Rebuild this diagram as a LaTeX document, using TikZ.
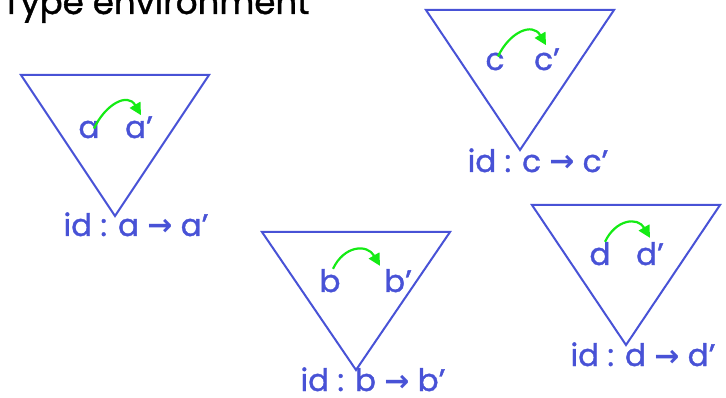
\documentclass[tikz,border=0pt]{standalone}
\usepackage{fontspec}
\setmainfont{Poppins}[FakeBold=1.2]
\newfontfamily\arrowfont{DejaVu Sans}
\usetikzlibrary{arrows.meta}
\definecolor{tblue}{RGB}{72,82,214}
\definecolor{tgreen}{RGB}{20,235,20}
\tikzset{
  tri/.style={draw=tblue, line width=2pt, line join=miter},
  lbl/.style={text=tblue, font=\fontsize{31}{36}\selectfont, inner sep=0pt, anchor=base},
  typ/.style={text=tblue, font=\fontsize{31}{36}\selectfont, inner sep=0pt, anchor=base},
  flow/.style={draw=tgreen, line width=2.2pt, -{Triangle[length=12pt,width=12pt]}, out=65, in=120, looseness=1.4},
}
\newcommand{\ar}{{\arrowfont\bfseries\fontsize{30}{30}\selectfont →}}
\begin{document}
\begin{tikzpicture}[x=1pt,y=-1pt]
\useasboundingbox (0,0) rectangle (726,398);
% title (cropped at top, as in the reference)
\node[font=\fontsize{34}{40}\selectfont, anchor=base west, inner sep=0pt] (title) at (2,14) {Type environment};

% triangle a
\draw[tri] (21,75) -- (209,75) -- (115,216) -- cycle;
\node[lbl] (a) at (89,138) {a};
\node[lbl] (ap) at (139,138) {a'};
\draw[flow] ([shift={(5pt,-8pt)}]a.north) to ([shift={(2pt,1pt)}]ap.north);
\node[typ] (ta) at (136,236) {id : a \ar{} a'};

% triangle b
\draw[tri] (262,232) -- (450,232) -- (356,370) -- cycle;
\node[lbl] (b) at (330,292) {b};
\node[lbl] (bp) at (398,292) {b'};
\draw[flow] ([shift={(3pt,0pt)}]b.north) to ([shift={(-18pt,3pt)}]bp.north);
\node[typ] (tb) at (373,391) {id : b \ar{} b'};

% triangle c
\draw[tri] (426,10) -- (614,10) -- (520,150) -- cycle;
\node[lbl] (c) at (495,70) {c};
\node[lbl] (cp) at (547,70) {c'};
\draw[flow] ([shift={(3pt,-4pt)}]c.north) to ([shift={(-1pt,3pt)}]cp.north);
\node[typ] (tc) at (538,172) {id : c \ar{} c'};

% triangle d
\draw[tri] (532,205) -- (720,205) -- (626,345) -- cycle;
\node[lbl] (d) at (600,265) {d};
\node[lbl] (dp) at (650,265) {d'};
\draw[flow] ([shift={(5pt,0pt)}]d.north) to ([shift={(0pt,4pt)}]dp.north);
\node[typ] (td) at (643,366) {id : d \ar{} d'};
\end{tikzpicture}
\end{document}
